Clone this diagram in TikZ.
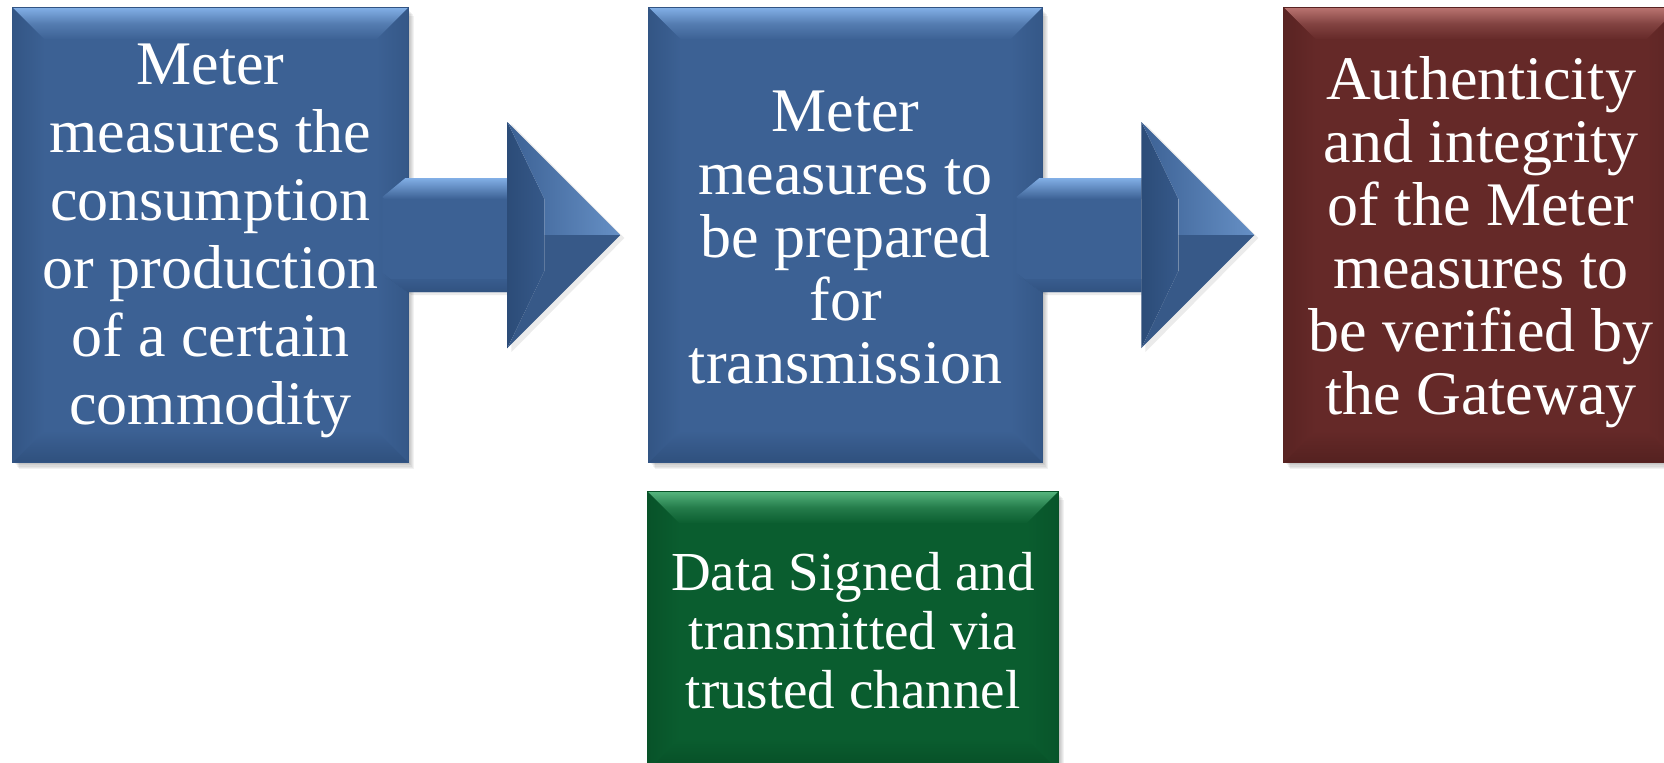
\documentclass[tikz,border=0pt]{standalone}
\usepackage{fontspec}
\setmainfont{Liberation Serif}
\usetikzlibrary{calc}
\definecolor{bbase}{RGB}{60,97,148}
\definecolor{blight}{RGB}{130,175,230}
\definecolor{bdark}{RGB}{44,76,120}
\definecolor{rbase}{RGB}{101,41,40}
\definecolor{rlight}{RGB}{185,115,112}
\definecolor{rdark}{RGB}{80,31,30}
\definecolor{gbase}{RGB}{10,93,47}
\definecolor{glight}{RGB}{85,180,125}
\definecolor{gdark}{RGB}{6,74,36}
\pgfdeclarelayer{bg}
\pgfdeclarelayer{mid}
\pgfsetlayers{bg,mid,main}
\tikzset{
  boxtext/.style={inner sep=0pt, text=white, align=center, font=\fontsize{31}{34}\selectfont},
  boxtextb/.style={inner sep=0pt, text=white, align=center, font=\fontsize{31}{31.5}\selectfont},
  greentext/.style={inner sep=0pt, text=white, align=center, font=\fontsize{27.5}{29.5}\selectfont},
}
% #1 node, #2 light, #3 base, #4 dark
\newcommand\bevelbox[4]{%
  \foreach \s in {1,2,3,4,5}{
    \fill[black,opacity=0.05] ($(#1.north west)+(\s*0.5pt+0.5pt,-\s*0.6pt-1pt)$) rectangle ($(#1.south east)+(\s*0.6pt,-\s*0.7pt)$);
  }
  \fill[#3] (#1.south west) rectangle (#1.north east);
  \shade[top color=#2, bottom color=#3, middle color=#2!35!#3] (#1.north west) -- (#1.north east) -- ($(#1.north east)+(-16pt,-16pt)$) -- ($(#1.north west)+(16pt,-16pt)$) -- cycle;
  \shade[left color=#4!55!#3, right color=#3] (#1.north west) -- ($(#1.north west)+(16pt,-16pt)$) -- ($(#1.south west)+(16pt,16pt)$) -- (#1.south west) -- cycle;
  \shade[right color=#4!45!#3, left color=#3] (#1.north east) -- ($(#1.north east)+(-16pt,-16pt)$) -- ($(#1.south east)+(-16pt,16pt)$) -- (#1.south east) -- cycle;
  \shade[bottom color=#4!80!#3, top color=#3] (#1.south west) -- ($(#1.south west)+(16pt,16pt)$) -- ($(#1.south east)+(-16pt,16pt)$) -- (#1.south east) -- cycle;
  \draw[#4!60!#3, line width=0.3pt] (#1.south west) rectangle (#1.north east);
}
% block arrow starting at named coordinate #1 (pixel units, y down)
\newcommand\blockarrow[1]{%
  \begin{scope}[shift={(#1)}]
    \fill[black,opacity=0.08] (2,-36) -- (25,-55) -- (129,-55) -- (129,-111) -- (242,3) -- (129,117) -- (129,60) -- (29,60) -- (2,40) -- cycle;
    \fill[bbase] (0,-38) -- (23,-57) -- (125,-57) -- (125,57) -- (25,57) -- (0,38) -- cycle;
    \shade[top color=blight, bottom color=bbase] (0,-38) -- (23,-57) -- (125,-57) -- (125,-36) -- (2,-36) -- cycle;
    \shade[top color=bbase, bottom color=bdark!70!bbase] (0,38) -- (25,57) -- (125,57) -- (125,44) -- (4,44) -- cycle;
    \shade[left color=bdark, right color=bdark!40!bbase] (125,-113) -- (162,-36) -- (162,36) -- (125,113) -- cycle;
    \shade[left color=bbase, right color=blight!60!bbase] (125,-113) -- (238,0) -- (162,0) -- (162,-36) -- cycle;
    \fill[bbase!92!black] (162,0) -- (238,0) -- (125,113) -- (162,36) -- cycle;
  \end{scope}
}
\begin{document}
\begin{tikzpicture}[x=0.5pt,y=-0.5pt]
\useasboundingbox (0,0) rectangle (1664,762);
\node[boxtext, minimum width=197.5pt, minimum height=227pt] (b1) at (210.5,235) {};
\node[boxtext] (t1) at (210.5,241)
  {Meter\\measures the\\consumption\\or production\\of a certain\\commodity};
\node[boxtext, minimum width=196.5pt, minimum height=227pt] (b2) at (845.5,235) {};
\node[boxtextb] (t2) at (845.5,237)
  {Meter\\measures to\\be prepared\\for\\transmission};
\node[boxtext, minimum width=197pt, minimum height=227pt] (b3) at (1481,235) {};
\node[boxtextb] (t3) at (1481,242)
  {Authenticity\\and integrity\\of the Meter\\measures to\\be verified by\\the Gateway};
\node[greentext, minimum width=205pt, minimum height=139pt] (g) at (853,631)
  {Data Signed and\\transmitted via\\trusted channel};
\coordinate (a1) at ($(b1.east)+(-13pt,0)$);
\coordinate (a2) at ($(b2.east)+(-13pt,0)$);
\begin{pgfonlayer}{bg}
  \clip (0,0) rectangle (1664,762);
  \bevelbox{b1}{blight}{bbase}{bdark}
  \bevelbox{b2}{blight}{bbase}{bdark}
  \bevelbox{b3}{rlight}{rbase}{rdark}
  \bevelbox{g}{glight}{gbase}{gdark}
\end{pgfonlayer}
\begin{pgfonlayer}{mid}
  \blockarrow{a1}
  \blockarrow{a2}
\end{pgfonlayer}
\end{tikzpicture}
\end{document}
